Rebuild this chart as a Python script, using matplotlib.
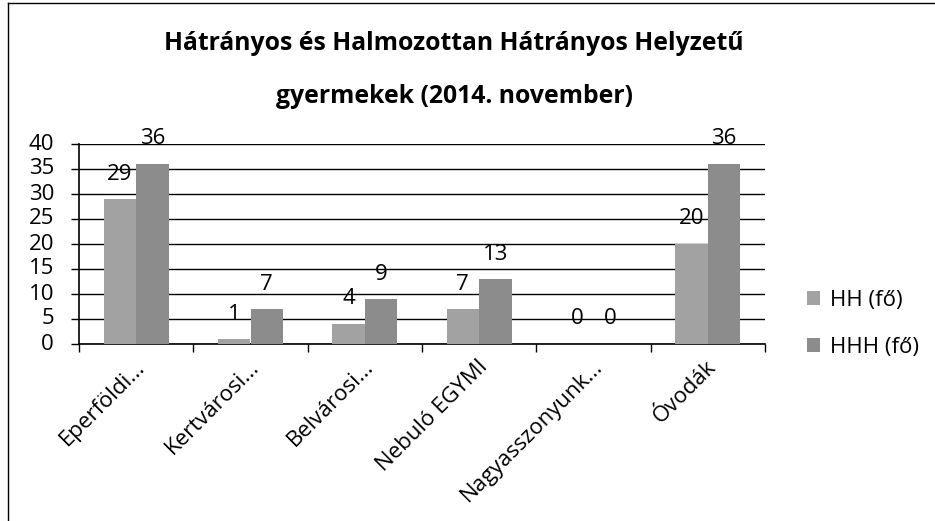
import matplotlib
matplotlib.use("Agg")
import matplotlib.pyplot as plt
import matplotlib.transforms as mtransforms
import numpy as np
from matplotlib.lines import Line2D

categories = ["Eperföldi...", "Kertvárosi...", "Belvárosi...", "Nebuló EGYMI", "Nagyasszonyunk...", "Óvodák"]
hh = [29, 1, 4, 7, 0, 20]
hhh = [36, 7, 9, 13, 0, 36]
series_names = ["HH (fő)", "HHH (fő)"]
title = "Hátrányos és Halmozottan Hátrányos Helyzetű\ngyermekek (2014. november)"

plt.rcParams['font.family'] = ['Open Sans', 'DejaVu Sans']
FS = 16

fig = plt.figure(figsize=(9.35, 5.21), dpi=100)
ax = fig.add_axes([79/935, 1-344/521, (765-79)/935, 200/521])

x = np.arange(len(categories))
w = 0.285
b1 = ax.bar(x - w/2, hh, w, color='#a2a2a2', label=series_names[0], zorder=3)
b2 = ax.bar(x + w/2, hhh, w, color='#8c8c8c', label=series_names[1], zorder=3)

for bars in (b1, b2):
    for r in bars:
        h = r.get_height()
        ax.annotate(f"{int(h)}", (r.get_x() + r.get_width()/2, h), xytext=(0, 25),
                    textcoords='offset pixels', ha='center', va='center', fontsize=FS, zorder=4)

ax.set_xlim(-0.5, len(categories) - 0.5)
ax.set_ylim(0, 40)
ax.set_yticks(range(0, 41, 5))
ax.yaxis.grid(True, color='black', linewidth=1.0, zorder=0)
ax.set_axisbelow(True)
for s in ['top', 'right']:
    ax.spines[s].set_visible(False)
ax.spines['left'].set_linewidth(1.2)
ax.spines['bottom'].set_linewidth(1.2)
ax.tick_params(axis='y', labelsize=FS, length=6, width=1, direction='out', pad=12)
for lab in ax.get_yticklabels():
    lab.set_verticalalignment('center')
ax.set_xticks(np.arange(-0.5, len(categories), 1.0), minor=False)
ax.set_xticklabels([])
ax.set_xticks(x, minor=True)
ax.set_xticklabels(categories, minor=True, rotation=45, ha='right', rotation_mode='anchor', fontsize=FS)
ax.tick_params(axis='x', which='major', length=6, width=1)
ax.tick_params(axis='x', which='minor', length=0, pad=9)
offset = mtransforms.ScaledTranslation(-2/100, 0, fig.dpi_scale_trans)
for lab in ax.get_xticklabels(minor=True):
    lab.set_transform(lab.get_transform() + offset)

fig.text(454/935, 1-70/521, title, ha='center', va='center', fontsize=17.8, fontweight='bold', linespacing=2.45)

leg = fig.legend(handles=[b1, b2], loc='center left', bbox_to_anchor=(807/935, 1-324/521),
                 frameon=False, fontsize=FS, handlelength=0.6, handleheight=0.6,
                 handletextpad=0.45, labelspacing=1.15, borderpad=0, borderaxespad=0)

fig.add_artist(Line2D([8/935, 8/935], [0, 1-3/521], color='black', linewidth=1))
fig.add_artist(Line2D([8/935, 1], [1-3/521, 1-3/521], color='black', linewidth=1))

fig.savefig("out.png", dpi=100)
